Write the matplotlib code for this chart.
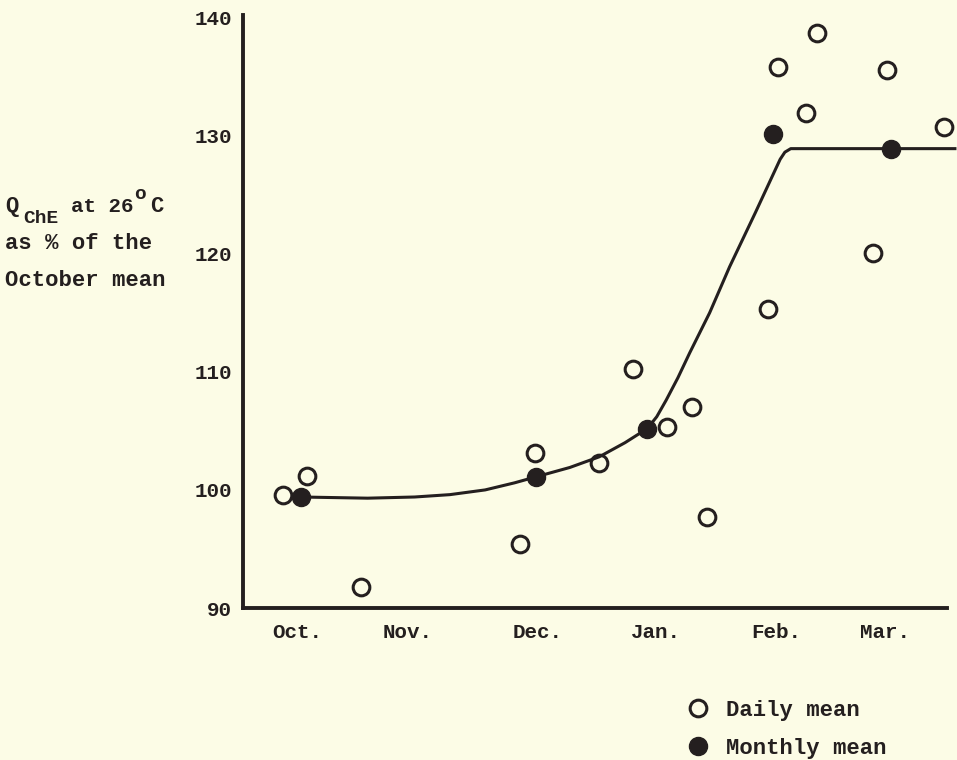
import numpy as np
import matplotlib.pyplot as plt

# шрифт под пишущую машинку
plt.rcParams['font.family'] = ['Liberation Mono', 'DejaVu Sans Mono']
plt.rcParams['font.weight'] = 'bold'

# данные (x - месяцы от октября)
months = ['Oct.', 'Nov.', 'Dec.', 'Jan.', 'Feb.', 'Mar.']
month_pos = [0, 0.94, 2.05, 3.05, 4.08, 5.0]   # подписи стоят не совсем равномерно
y_ticks = [90, 100, 110, 120, 130, 140]

daily_x = [-0.12, 0.08, 0.54, 1.90, 2.02, 2.57, 2.86, 3.15, 3.36, 3.49,
           4.01, 4.09, 4.33, 4.42, 4.90, 5.02, 5.50]
daily_y = [99.6, 101.2, 91.8, 95.4, 103.1, 102.3, 110.2, 105.3, 107.0, 97.7,
           115.3, 135.8, 131.9, 138.7, 120.1, 135.6, 130.7]

monthly_x = [0.03, 2.03, 2.98, 4.05, 5.05]
monthly_y = [99.4, 101.1, 105.2, 130.1, 128.9]

# сглаженная кривая, точки
curve_x = [0.03, 0.60, 1.00, 1.30, 1.60, 1.85, 2.03, 2.32, 2.57, 2.79,
           2.98, 3.06, 3.14, 3.24, 3.34, 3.51, 3.68, 3.90, 4.11, 4.15,
           4.20, 5.05, 5.61]
curve_y = [99.4, 99.3, 99.4, 99.6, 100.0, 100.6, 101.1, 101.9, 102.8, 104.0,
           105.2, 106.2, 107.6, 109.5, 111.6, 115.0, 118.9, 123.5, 128.0, 128.6,
           128.9, 128.9, 128.9]

bg = '#fcfce6'
ink = '#241f1f'

fig = plt.figure(figsize=(9.57, 7.6), dpi=100, facecolor=bg)
ax = fig.add_axes([0.254, 0.2, 0.7356, 0.78])
ax.set_facecolor(bg)

ax.plot(curve_x, curve_y, color=ink, lw=2.2, zorder=2, clip_on=False,
        solid_capstyle='butt', solid_joinstyle='round')
ax.plot(daily_x, daily_y, 'o', ms=12, mfc='none', mec=ink, mew=2.2,
        zorder=3, clip_on=False, label='Daily mean')
ax.plot(monthly_x, monthly_y, 'o', ms=13, mfc=ink, mec=ink, mew=1,
        zorder=4, clip_on=False, label='Monthly mean')

ax.set_xlim(-0.46, 5.53)
ax.set_ylim(90, 140.2)
ax.set_xticks(month_pos)
ax.set_xticklabels(months)
ax.set_yticks(y_ticks)
ax.tick_params(length=0, labelsize=15, colors=ink)
ax.tick_params(axis='x', pad=11)
ax.tick_params(axis='y', pad=8)

for s in ['top', 'right']:
    ax.spines[s].set_visible(False)
for s in ['left', 'bottom']:
    ax.spines[s].set_linewidth(2.8)
    ax.spines[s].set_color(ink)

# подпись оси Y слева, в три строки (первая строка собрана по кусочкам)
W, H = 957, 760
fig.text(5/W, 1 - 212/H, 'Q', fontsize=16, va='baseline', color=ink)
fig.text(23/W, 1 - 223/H, 'ChE', fontsize=14, va='baseline', color=ink)
fig.text(71/W, 1 - 212/H, 'at 26', fontsize=15, va='baseline', color=ink)
fig.text(134/W, 1 - 199/H, 'o', fontsize=14, va='baseline', color=ink)
fig.text(150/W, 1 - 212/H, 'C', fontsize=16, va='baseline', color=ink)
fig.text(5/W, 1 - 249/H, 'as % of the', fontsize=16,
         va='baseline', ha='left', color=ink)
fig.text(5/W, 1 - 286/H, 'October mean', fontsize=16,
         va='baseline', ha='left', color=ink)

fig.legend(loc='upper left', bbox_to_anchor=(0.7185, 0.079), frameon=False,
           borderpad=0, borderaxespad=0, handlelength=0.95, handletextpad=0.8,
           labelspacing=0.75, prop={'size': 16, 'weight': 'bold'},
           labelcolor=ink)

fig.savefig('out.png', dpi=100, facecolor=bg)
